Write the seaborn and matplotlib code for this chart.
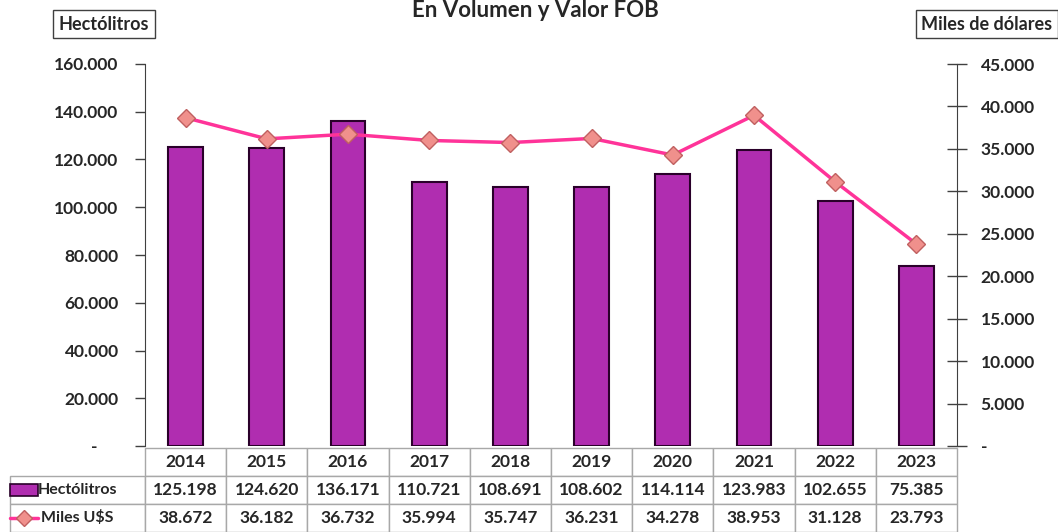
import numpy as np
import pandas as pd
import matplotlib
matplotlib.use("Agg")
import matplotlib.pyplot as plt
import seaborn as sns
from matplotlib.patches import Rectangle
from matplotlib.lines import Line2D
from matplotlib.ticker import FuncFormatter, MultipleLocator

# ===============================
# Data
# ===============================
years = ["2014", "2015", "2016", "2017", "2018", "2019", "2020", "2021", "2022", "2023"]
hectolitros = [125198, 124620, 136171, 110721, 108691, 108602, 114114, 123983, 102655, 75385]
miles_usd = [38672, 36182, 36732, 35994, 35747, 36231, 34278, 38953, 31128, 23793]

title = "En Volumen y Valor FOB"
left_label = "Hectólitros"
right_label = "Miles de dólares"
row_labels = ["Hectólitros", "Miles U$S"]

bar_color = "#B02DB0"
bar_edge = "#2A002A"
line_color = "#FF3399"
marker_face = "#F0908C"
marker_edge = "#C06060"

df = pd.DataFrame({"year": years, "hl": hectolitros, "usd": miles_usd})

# ===============================
# Style
# ===============================
sns.set_style("white")
plt.rcParams["font.family"] = ["Lato", "DejaVu Sans"]
plt.rcParams["font.weight"] = "bold"


def fmt_num(v):
    if abs(v) < 0.5:
        return "-"
    return f"{v:,.0f}".replace(",", ".")


fig = plt.figure(figsize=(10.58, 5.32), dpi=100)
ax = fig.add_axes([145 / 1058, 86 / 532, 812 / 1058, 382 / 532])

sns.barplot(data=df, x="year", y="hl", color=bar_color, width=0.43,
            edgecolor=bar_edge, linewidth=1.5, saturation=1, ax=ax)

ax2 = ax.twinx()
sns.lineplot(x=np.arange(len(years)), y=df["usd"], ax=ax2, color=line_color,
             linewidth=2.5, marker="D", markersize=9,
             markerfacecolor=marker_face, markeredgecolor=marker_edge,
             markeredgewidth=1)

ax.set_xlim(-0.5, len(years) - 0.5)
ax.set_ylim(0, 160000)
ax2.set_ylim(0, 45000)
ax.yaxis.set_major_locator(MultipleLocator(20000))
ax2.yaxis.set_major_locator(MultipleLocator(5000))

ax.yaxis.set_major_formatter(FuncFormatter(
    lambda v, p: "-     " if abs(v) < 0.5 else fmt_num(v)))
ax2.yaxis.set_major_formatter(FuncFormatter(lambda v, p: fmt_num(v)))

ax.set_xlabel("")
ax.set_ylabel("")
ax2.set_ylabel("")
ax.set_xticks([])
ax2.set_xticks([])

for a in (ax, ax2):
    for s in ("top", "bottom", "left", "right"):
        a.spines[s].set_visible(False)
ax.spines["left"].set_visible(True)
ax.spines["left"].set_color("#404040")
ax2.spines["right"].set_visible(True)
ax2.spines["right"].set_color("#404040")

ax.tick_params(axis="y", direction="out", length=7, width=1, color="#404040",
               labelsize=12.5, pad=12, left=True)
ax2.tick_params(axis="y", direction="inout", length=14, width=1, color="#404040",
                labelsize=12.5, pad=10, right=True)
for lab in ax.get_yticklabels() + ax2.get_yticklabels():
    lab.set_fontweight("bold")

# ===============================
# Data table
# ===============================
cell_text = [[""] + years,
             [row_labels[0]] + [fmt_num(v) for v in hectolitros],
             [row_labels[1]] + [fmt_num(v) for v in miles_usd]]
tbl = ax.table(cellText=cell_text, cellLoc="center",
               colWidths=[0.1662] + [0.1] * len(years),
               bbox=[-135 / 812, -86 / 382, 947 / 812, 84 / 382])
tbl.auto_set_font_size(False)
tbl.set_fontsize(12.5)
for (r, c), cell in tbl.get_celld().items():
    cell.set_edgecolor("#A8A8A8")
    cell.set_linewidth(1)
    cell.get_text().set_fontweight("bold")
    if c == 0:
        cell._loc = "right"
        cell.PAD = 0.012
        cell.get_text().set_fontsize(11.5)
    if r == 0 and c == 0:
        cell.visible_edges = ""

# legend keys inside the table
fig.add_artist(Rectangle((10 / 1058, (532 - 496) / 532), 28 / 1058, 12 / 532,
                         transform=fig.transFigure, facecolor=bar_color,
                         edgecolor=bar_edge, linewidth=1.2))
fig.add_artist(Line2D([10 / 1058, 38 / 1058], [(532 - 518) / 532] * 2,
                      transform=fig.transFigure, color=line_color, linewidth=2.5))
fig.add_artist(Line2D([24 / 1058], [(532 - 518) / 532],
                      transform=fig.transFigure, linestyle="none", marker="D",
                      markersize=8, markerfacecolor=marker_face,
                      markeredgecolor=marker_edge, markeredgewidth=1))

# ===============================
# Titles / axis boxes
# ===============================
fig.text(535 / 1058, (532 - 17) / 532, title, ha="center", va="baseline",
         fontsize=16, fontweight="bold")
box = dict(boxstyle="square,pad=0.3", facecolor="white", edgecolor="#404040", linewidth=1)
fig.text(104 / 1058, (532 - 24) / 532, left_label, ha="center", va="center",
         fontsize=13, fontweight="bold", bbox=box)
fig.text(921 / 1058, (532 - 24) / 532, right_label, ha="left", va="center",
         fontsize=13, fontweight="bold", bbox=box)

fig.savefig("out.png", dpi=100)
